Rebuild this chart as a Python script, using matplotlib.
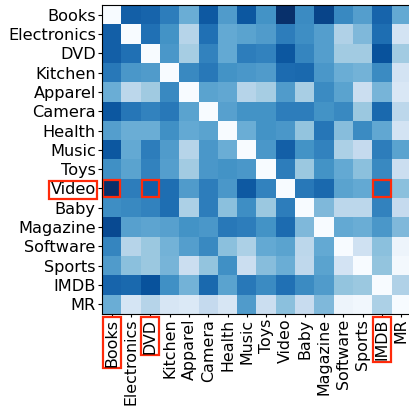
import matplotlib
matplotlib.use("Agg")
import matplotlib.pyplot as plt
from matplotlib.patches import Rectangle
import numpy as np

labels = ["Books", "Electronics", "DVD", "Kitchen", "Apparel", "Camera", "Health",
          "Music", "Toys", "Video", "Baby", "Magazine", "Software", "Sports", "IMDB", "MR"]

row_books       = [0.00, 0.82, 0.80, 0.70, 0.50, 0.84, 0.58, 0.85, 0.62, 1.00, 0.65, 0.92, 0.66, 0.57, 0.80, 0.52]
row_electronics = [0.82, 0.00, 0.75, 0.62, 0.30, 0.75, 0.52, 0.55, 0.58, 0.70, 0.64, 0.57, 0.32, 0.45, 0.76, 0.18]
row_dvd         = [0.82, 0.75, 0.00, 0.60, 0.35, 0.68, 0.52, 0.70, 0.68, 0.85, 0.67, 0.57, 0.36, 0.36, 0.87, 0.36]
row_kitchen     = [0.72, 0.60, 0.58, 0.00, 0.66, 0.72, 0.62, 0.60, 0.58, 0.77, 0.78, 0.60, 0.50, 0.48, 0.65, 0.18]
row_apparel     = [0.50, 0.28, 0.37, 0.66, 0.00, 0.55, 0.53, 0.30, 0.35, 0.58, 0.34, 0.65, 0.55, 0.22, 0.47, 0.15]
row_camera      = [0.85, 0.73, 0.68, 0.72, 0.55, 0.00, 0.56, 0.62, 0.62, 0.70, 0.70, 0.62, 0.66, 0.38, 0.78, 0.28]
row_health      = [0.57, 0.50, 0.50, 0.63, 0.52, 0.55, 0.00, 0.50, 0.62, 0.60, 0.40, 0.73, 0.43, 0.65, 0.53, 0.18]
row_music       = [0.85, 0.52, 0.70, 0.58, 0.30, 0.60, 0.50, 0.00, 0.60, 0.82, 0.62, 0.68, 0.33, 0.25, 0.70, 0.55]
row_toys        = [0.63, 0.55, 0.68, 0.57, 0.36, 0.60, 0.62, 0.60, 0.00, 0.70, 0.38, 0.62, 0.52, 0.42, 0.66, 0.22]
row_video       = [1.00, 0.70, 0.82, 0.76, 0.58, 0.70, 0.60, 0.84, 0.68, 0.00, 0.72, 0.78, 0.55, 0.52, 0.78, 0.42]
row_baby        = [0.64, 0.66, 0.68, 0.76, 0.33, 0.70, 0.42, 0.64, 0.38, 0.70, 0.00, 0.45, 0.28, 0.28, 0.68, 0.25]
row_magazine    = [0.90, 0.56, 0.54, 0.56, 0.62, 0.60, 0.72, 0.70, 0.62, 0.77, 0.45, 0.00, 0.52, 0.50, 0.60, 0.45]
row_software    = [0.67, 0.30, 0.38, 0.48, 0.57, 0.66, 0.42, 0.33, 0.52, 0.55, 0.28, 0.52, 0.00, 0.20, 0.42, 0.05]
row_sports      = [0.58, 0.42, 0.38, 0.47, 0.22, 0.40, 0.63, 0.22, 0.43, 0.50, 0.27, 0.55, 0.18, 0.00, 0.40, 0.02]
row_imdb        = [0.80, 0.78, 0.87, 0.63, 0.48, 0.78, 0.55, 0.72, 0.65, 0.75, 0.65, 0.58, 0.40, 0.38, 0.00, 0.32]
row_mr          = [0.50, 0.17, 0.30, 0.16, 0.14, 0.25, 0.16, 0.58, 0.22, 0.42, 0.24, 0.45, 0.05, 0.03, 0.33, 0.00]

matrix = np.array([row_books, row_electronics, row_dvd, row_kitchen, row_apparel, row_camera,
                   row_health, row_music, row_toys, row_video, row_baby, row_magazine,
                   row_software, row_sports, row_imdb, row_mr])

highlight_x = ["Books", "DVD", "IMDB"]
highlight_y = ["Video"]

red = "#ff2a0a"

fig = plt.figure(figsize=(4.09, 4.09), dpi=100)
ax = fig.add_axes([102 / 409, 95 / 409, 309 / 409, 309 / 409])
ax.imshow(matrix, cmap="Blues", vmin=0, vmax=1, aspect="auto", interpolation="nearest")

n = len(labels)
ax.set_xticks(range(n))
ax.set_yticks(range(n))
ax.set_xticklabels(labels, rotation=90, fontsize=11.4)
ax.set_yticklabels(labels, fontsize=11.6)
ax.tick_params(axis="y", length=3, width=0.8, pad=1.5)
ax.tick_params(axis="x", length=2.5, width=0.8, pad=1.0)

for t in ax.get_xticklabels():
    if t.get_text() in highlight_x:
        t.set_bbox(dict(facecolor="none", edgecolor=red, linewidth=1.6, pad=1.0))
for t in ax.get_yticklabels():
    if t.get_text() in highlight_y:
        t.set_bbox(dict(facecolor="none", edgecolor=red, linewidth=1.6, pad=1.0))

for yl in highlight_y:
    r = labels.index(yl)
    for xl in highlight_x:
        c = labels.index(xl)
        ax.add_patch(Rectangle((c - 0.5 + 0.05, r - 0.5 + 0.05), 0.9, 0.9, fill=False,
                               edgecolor=red, linewidth=1.6, clip_on=False))

fig.savefig("out.png", dpi=100)
